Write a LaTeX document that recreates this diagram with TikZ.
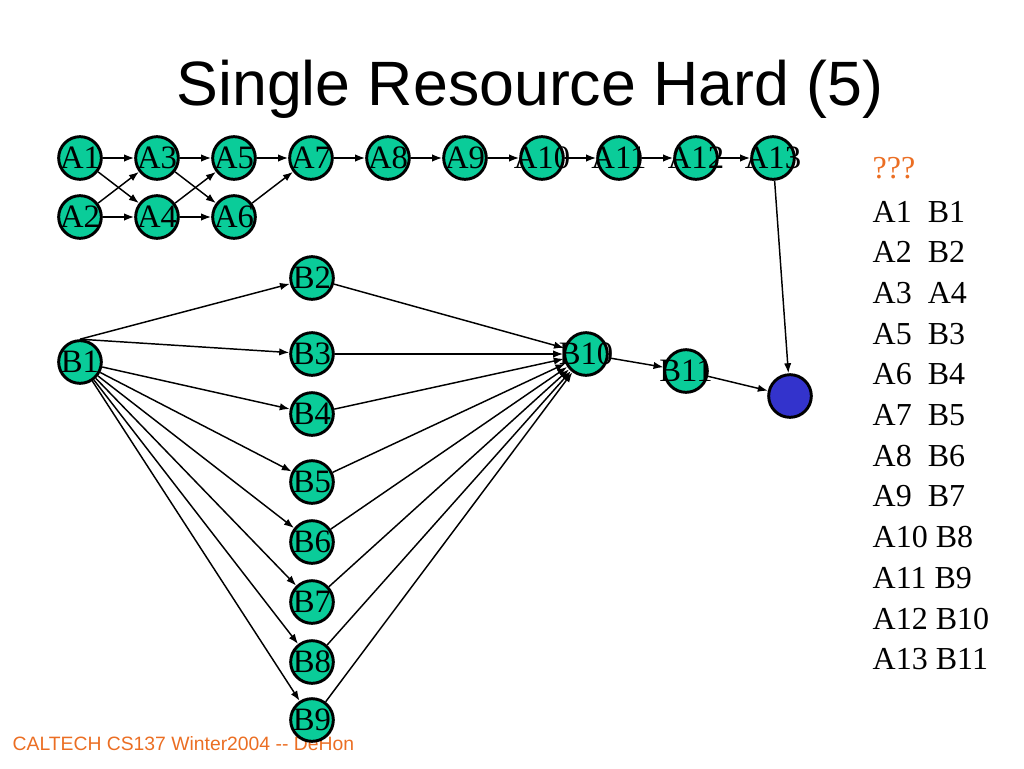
\documentclass[tikz,border=0pt]{standalone}
\usepackage{fontspec}
\setmainfont{Liberation Serif}
\newfontfamily\titlefont{Liberation Sans}
\usetikzlibrary{positioning,arrows.meta}
\definecolor{nodegreen}{RGB}{10,204,153}
\definecolor{sinkblue}{RGB}{51,51,204}
\definecolor{footorange}{RGB}{235,110,35}

\begin{document}
\begin{tikzpicture}[->,>={Latex[length=7.5pt,width=5.5pt]},x=0.75pt,y=-0.75pt,line width=1.1pt,
    on grid,node distance=57.75pt,
    every label/.style={font=\fontsize{24.5}{24.5}\selectfont,inner sep=0pt},
    op/.style={circle,draw=black,line width=2.2pt,fill=nodegreen,
      minimum size=32pt,inner sep=0pt,label={center:#1}},
    sink/.style={circle,draw=black,line width=2.2pt,fill=sinkblue,
      minimum size=32pt,inner sep=0pt},
    item/.style={anchor=base west,inner sep=0pt,font=\fontsize{24}{24}\selectfont}]
  \useasboundingbox (0,0) rectangle (1024,768);
  \node[anchor=base,font=\titlefont\fontsize{47}{47}\selectfont] (title) at (530,105) {Single Resource Hard (5)};
  \node[anchor=base west,inner sep=0pt,text=footorange,
    font=\titlefont\fontsize{14.5}{14.5}\selectfont] (foot) at (12,750) {CALTECH CS137 Winter2004 -{}- DeHon};
  % chain A
  \node[op=A1] (a1) at (80,158) {};
  \node[op=A2] (a2) [below=44.25pt of a1] {};
  \node[op=A3] (a3) [right=of a1] {};
  \node[op=A4] (a4) [right=of a2] {};
  \node[op=A5] (a5) [right=of a3] {};
  \node[op=A6] (a6) [right=of a4] {};
  \node[op=A7] (a7) [right=of a5] {};
  \foreach \i [count=\j from 7] in {8,...,13}
    \node[op=A\i] (a\i) [right=of a\j] {};
  \path (a1) edge (a3) (a1) edge (a4)
        (a2) edge (a3) (a2) edge (a4)
        (a3) edge (a5) (a3) edge (a6)
        (a4) edge (a5) (a4) edge (a6)
        (a5) edge (a7) (a6) edge (a7);
  \foreach \i [count=\j from 7] in {8,...,13}
    \draw (a\j) -- (a\i);
  % chain B
  \node[op=B1] (b1) at (80,362) {};
  \foreach \i/\y in {2/278,3/354,4/414,5/482,6/542,7/602,8/662,9/720}
    \node[op=B\i] (b\i) at (312,\y) {};
  \node[op=B10] (b10) at (586,354) {};
  \node[op=B11] (b11) at (686,371) {};
  \node[sink] (end) at (790,396) {};
  \draw (b1.north) -- (b2);
  \draw (b1.north) -- (b3);
  \foreach \i in {4,...,9}
    \draw (b1) -- (b\i);
  \foreach \i in {2,...,9}
    \draw (b\i) -- (b10);
  \draw (b10) -- (b11);
  \draw (b11) -- (end);
  \draw (a13) -- (end);
  % schedule
  \node[item,text=footorange] (qq) at (872,178) {???};
  \foreach \t [count=\k from 0] in {A1~~B1,A2~~B2,A3~~A4,A5~~B3,A6~~B4,A7~~B5,
      A8~~B6,A9~~B7,A10 B8,A11 B9,A12 B10,A13 B11}
    \node[item] (row\k) at (872,{222+40.7*\k}) {\t};
\end{tikzpicture}
\end{document}
